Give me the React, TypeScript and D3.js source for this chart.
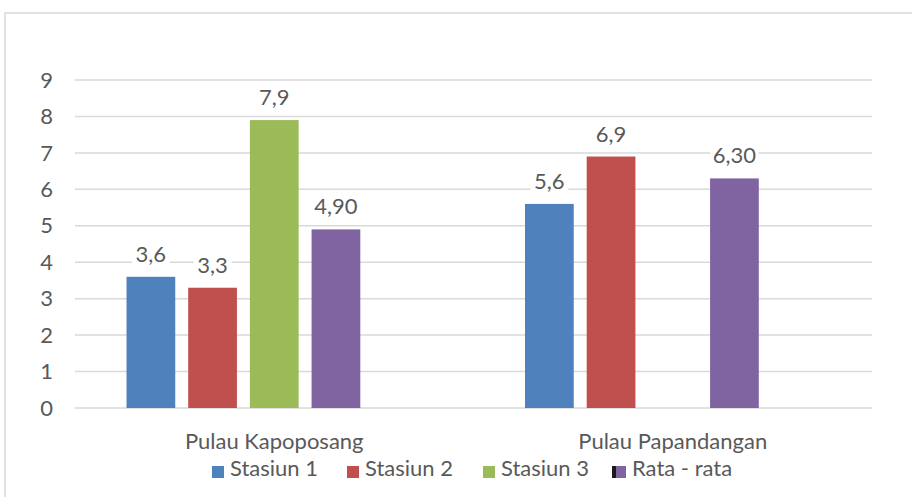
import React from "react";
import * as d3 from "d3";

const categories = ["Pulau Kapoposang", "Pulau Papandangan"];
const seriesNames = ["Stasiun 1", "Stasiun 2", "Stasiun 3", "Rata - rata"];
const seriesColors = ["#4F81BD", "#C0504D", "#9BBB59", "#8064A2"];
// values per series, one entry per category (null = no bar)
const stasiun1 = [3.6, 5.6];
const stasiun2 = [3.3, 6.9];
const stasiun3 = [7.9, null];
const rataRata = [4.9, 6.3];
const labelStasiun1 = ["3,6", "5,6"];
const labelStasiun2 = ["3,3", "6,9"];
const labelStasiun3 = ["7,9", ""];
const labelRata = ["4,90", "6,30"];
const yTicks = [0, 1, 2, 3, 4, 5, 6, 7, 8, 9];

const seriesValues = [stasiun1, stasiun2, stasiun3, rataRata];
const seriesLabels = [labelStasiun1, labelStasiun2, labelStasiun3, labelRata];
// an extra empty slot exists in each group (hidden fifth series)
const slots = ["s1", "s2", "s3", "s4", "s5"];

const FONT = "Lato, 'Open Sans', sans-serif";
const TEXT = "#595959";
const GRID = "#D9D9D9";

export default function App() {
  const W = 912;
  const H = 497;
  const left = 75;
  const right = 872;
  const y = d3.scaleLinear().domain([0, 9]).range([408, 80]);
  const x0 = d3.scaleBand<string>().domain(categories).range([left, right]).padding(0);
  const x1 = d3
    .scaleBand<string>()
    .domain(slots)
    .range([0, x0.bandwidth()])
    .paddingInner(0.21)
    .paddingOuter(0.835);
  const fs = 22;

  const legendX = [212, 347, 483, 616];

  return (
    <svg
      width={W}
      height={H}
      style={{ position: "absolute", left: 0, top: 0, background: "#fff" }}
      fontFamily={FONT}
    >
      <rect x={5} y={13} width={W} height={H} fill="#fff" stroke={GRID} strokeWidth={1.5} />
      {yTicks.map((t) => (
        <g key={t}>
          <line x1={left} x2={right} y1={y(t)} y2={y(t)} stroke={GRID} strokeWidth={1.5} />
          <text x={53} y={y(t)} dy="0.35em" textAnchor="end" fontSize={fs} fill={TEXT}>
            {t}
          </text>
        </g>
      ))}
      {categories.map((c, ci) =>
        seriesValues.map((vals, si) => {
          const v = vals[ci];
          if (v == null) return null;
          const bx = (x0(c) as number) + (x1(slots[si]) as number);
          const bw = x1.bandwidth();
          const top = y(v);
          const lbl = seriesLabels[si][ci];
          const lw = lbl.length * 10 + 8;
          return (
            <g key={c + si}>
              <rect x={bx} y={top} width={bw} height={y(0) - top} fill={seriesColors[si]} />
              <rect x={bx + bw / 2 - lw / 2} y={top - 36} width={lw} height={27} fill="#fff" />
              <text x={bx + bw / 2} y={top - 15} textAnchor="middle" fontSize={fs} fill={TEXT}>
                {lbl}
              </text>
            </g>
          );
        })
      )}
      {categories.map((c) => (
        <text
          key={c}
          x={(x0(c) as number) + x0.bandwidth() / 2}
          y={449}
          textAnchor="middle"
          fontSize={fs}
          fill={TEXT}
        >
          {c}
        </text>
      ))}
      {seriesNames.map((n, i) => (
        <g key={n}>
          {i === 3 && <rect x={legendX[i] - 4} y={466} width={4} height={12} fill="#1a1a1a" />}
          <rect x={legendX[i]} y={466} width={i === 3 ? 10 : 12} height={12} fill={seriesColors[i]} />
          <text x={legendX[i] + (i === 3 ? 16 : 18)} y={476} fontSize={fs} fill={TEXT}>
            {n}
          </text>
        </g>
      ))}
    </svg>
  );
}
